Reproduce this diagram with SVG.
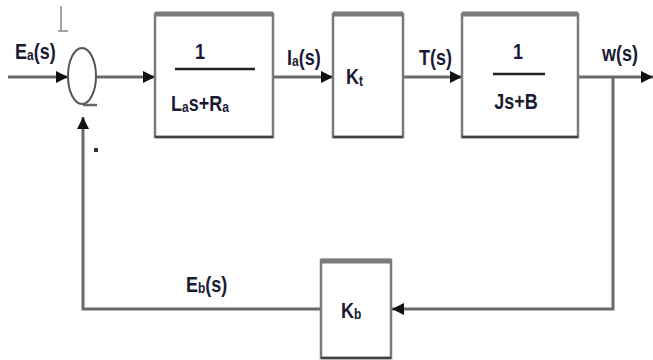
<svg xmlns="http://www.w3.org/2000/svg" width="653" height="360" viewBox="0 0 653 360">
<style>
.blk{fill:#fff;stroke:#7a7a7a;stroke-width:2.5}
.top{stroke:#7a7a7a;stroke-width:5}
.bot{stroke:#444;stroke-width:2.5}
.ln{fill:none;stroke:#6a6a6a;stroke-width:3}
.fr{stroke:#222;stroke-width:2.5}
text{font-family:"Liberation Sans",Arial,sans-serif;font-weight:bold;font-size:18px;fill:#1a1a33}
.sub{font-size:12px}
</style>
<defs>
<marker id="ah" viewBox="0 0 10 10" refX="10" refY="5" markerWidth="4.2" markerHeight="4" orient="auto" markerUnits="strokeWidth">
<path d="M0,0 L10,5 L0,10 z" fill="#111"/>
</marker>
</defs>
<rect width="653" height="360" fill="#fff"/>
<g id="connectors">
<path class="ln" d="M8,77 H68" marker-end="url(#ah)"/>
<path class="ln" d="M97,77 H155" marker-end="url(#ah)"/>
<path class="ln" d="M273,77 H333" marker-end="url(#ah)"/>
<path class="ln" d="M403,77 H462" marker-end="url(#ah)"/>
<path class="ln" d="M578,77 H653" marker-end="url(#ah)"/>
<path class="ln" d="M613,77 V309 H392" marker-end="url(#ah)"/>
<path class="ln" d="M321,309 H83 V117" marker-end="url(#ah)"/>
</g>
<g id="sum">
<ellipse cx="82" cy="76" rx="14" ry="28" fill="#fff" stroke="#555" stroke-width="2"/>
<path d="M61,6 V31 M58,31 H68" stroke="#888" stroke-width="1.5" fill="none"/>
<path d="M83,105 H97" stroke="#666" stroke-width="2.5"/>
<rect x="94" y="148" width="4" height="4" fill="#333"/>
</g>
<g id="Ea"><text transform="translate(15,59) scale(1,1.25)">E<tspan class="sub" dy="1">a</tspan><tspan dy="-1">(s)</tspan></text></g>
<g id="block1">
<rect class="blk" x="155" y="14" width="118" height="123"/>
<line class="top" x1="155" y1="14" x2="273" y2="14"/>
<line class="bot" x1="155" y1="137" x2="273" y2="137"/>
<text transform="translate(200,59) scale(1,1.2)" text-anchor="middle">1</text>
<line class="fr" x1="175" y1="69" x2="255" y2="69"/>
<text transform="translate(171,111) scale(1,1.2)">L<tspan class="sub" dy="1">a</tspan><tspan dy="-1">s+R</tspan><tspan class="sub" dy="1">a</tspan></text>
</g>
<g id="Ia"><text transform="translate(287,65) scale(1,1.25)">I<tspan class="sub" dy="1">a</tspan><tspan dy="-1">(s)</tspan></text></g>
<g id="blockKt">
<rect class="blk" x="333" y="14" width="70" height="123"/>
<line class="top" x1="333" y1="14" x2="403" y2="14"/>
<line class="bot" x1="333" y1="137" x2="403" y2="137"/>
<text transform="translate(346,84) scale(1,1.2)">K<tspan class="sub" dy="2">t</tspan></text>
</g>
<g id="T"><text transform="translate(419,65) scale(1,1.25)">T(s)</text></g>
<g id="block3">
<rect class="blk" x="462" y="14" width="116" height="123"/>
<line class="top" x1="462" y1="14" x2="578" y2="14"/>
<line class="bot" x1="462" y1="137" x2="578" y2="137"/>
<text transform="translate(518,59) scale(1,1.2)" text-anchor="middle">1</text>
<line class="fr" x1="493" y1="74" x2="545" y2="74"/>
<text transform="translate(516,109) scale(1,1.2)" text-anchor="middle">Js+B</text>
</g>
<g id="w"><text transform="translate(602,61) scale(1,1.25)">w(s)</text></g>
<g id="blockKb">
<rect class="blk" x="321" y="260" width="70" height="98"/>
<line class="top" x1="321" y1="261" x2="391" y2="261"/>
<line class="bot" x1="321" y1="358" x2="391" y2="358"/>
<text transform="translate(341,318) scale(1,1.25)">K<tspan class="sub" dy="1">b</tspan></text>
</g>
<g id="Eb"><text transform="translate(186,292) scale(1,1.25)">E<tspan class="sub" dy="1">b</tspan><tspan dy="-1">(s)</tspan></text></g>
</svg>
